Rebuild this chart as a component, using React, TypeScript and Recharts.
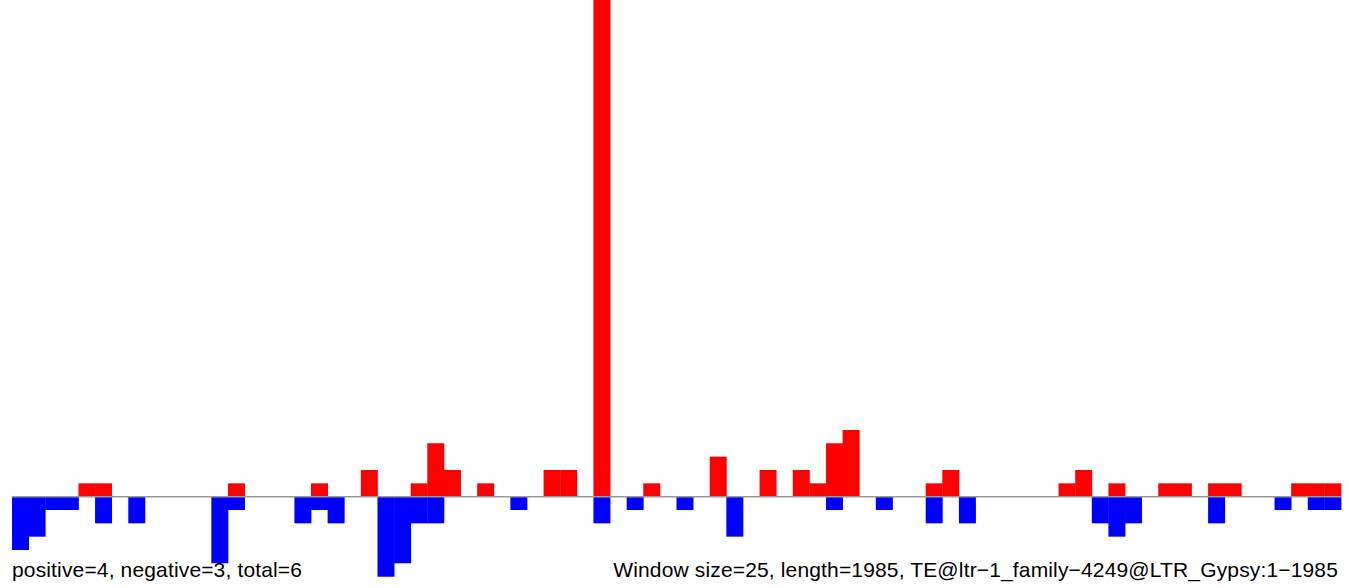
import React from "react";
import { BarChart, Bar, XAxis, YAxis, ReferenceLine } from "recharts";

const windows: number[] = Array.from({ length: 80 }, (_, i) => i + 1);

const positive: number[] = [
  0, 0, 0, 0, 1, 1, 0, 0, 0, 0, 0, 0, 0, 1, 0, 0, 0, 0, 1, 0,
  0, 2, 0, 0, 1, 4, 2, 0, 1, 0, 0, 0, 2, 2, 0, 40, 0, 0, 1, 0,
  0, 0, 3, 0, 0, 2, 0, 2, 1, 4, 5, 0, 0, 0, 0, 1, 2, 0, 0, 0,
  0, 0, 0, 1, 2, 0, 1, 0, 0, 1, 1, 0, 1, 1, 0, 0, 0, 1, 1, 1,
];

const negative: number[] = [
  -4, -3, -1, -1, 0, -2, 0, -2, 0, 0, 0, 0, -5, -1, 0, 0, 0, -2, -1, -2,
  0, 0, -6, -5, -2, -2, 0, 0, 0, 0, -1, 0, 0, 0, 0, -2, 0, -1, 0, 0,
  -1, 0, 0, -3, 0, 0, 0, 0, 0, -1, 0, 0, -1, 0, 0, -2, 0, -2, 0, 0,
  0, 0, 0, 0, 0, -2, -3, -2, 0, 0, 0, 0, -2, 0, 0, 0, -1, 0, -1, -1,
];

const leftLabel = "positive=4, negative=3, total=6";
const rightLabel = "Window size=25, length=1985, TE@ltr\u22121_family\u22124249@LTR_Gypsy:1\u22121985";

const data = windows.map((w, i) => ({ win: w, pos: positive[i], neg: negative[i] }));

const W = 1349;
const H = 588;
const font = '"Liberation Sans", Arial, Helvetica, sans-serif';

export default function App() {
  return (
    <div style={{ position: "absolute", left: 0, top: 0, width: W, height: H, background: "#fff" }}>
      <BarChart
        width={W}
        height={H}
        data={data}
        margin={{ top: 0, right: 8, left: 12, bottom: 0 }}
        barCategoryGap={0}
        barGap={0}
        stackOffset="sign"
      >
        <XAxis dataKey="win" hide />
        <YAxis hide domain={[-6.85, 37.25]} allowDataOverflow type="number" />
        <ReferenceLine y={0} stroke="#999999" strokeWidth={1.5} />
        <Bar dataKey="pos" stackId="a" fill="#FF0000" isAnimationActive={false} />
        <Bar dataKey="neg" stackId="a" fill="#0000FF" isAnimationActive={false} />
      </BarChart>
      <svg width={W} height={H} style={{ position: "absolute", left: 0, top: 0, pointerEvents: "none" }}>
        <text x={12} y={576.5} fontFamily={font} fontSize={21} letterSpacing={0.15} fill="#000">
          {leftLabel}
        </text>
        <text x={1338} y={576.5} fontFamily={font} fontSize={21} letterSpacing={0.15} fill="#000" textAnchor="end">
          {rightLabel}
        </text>
      </svg>
    </div>
  );
}
